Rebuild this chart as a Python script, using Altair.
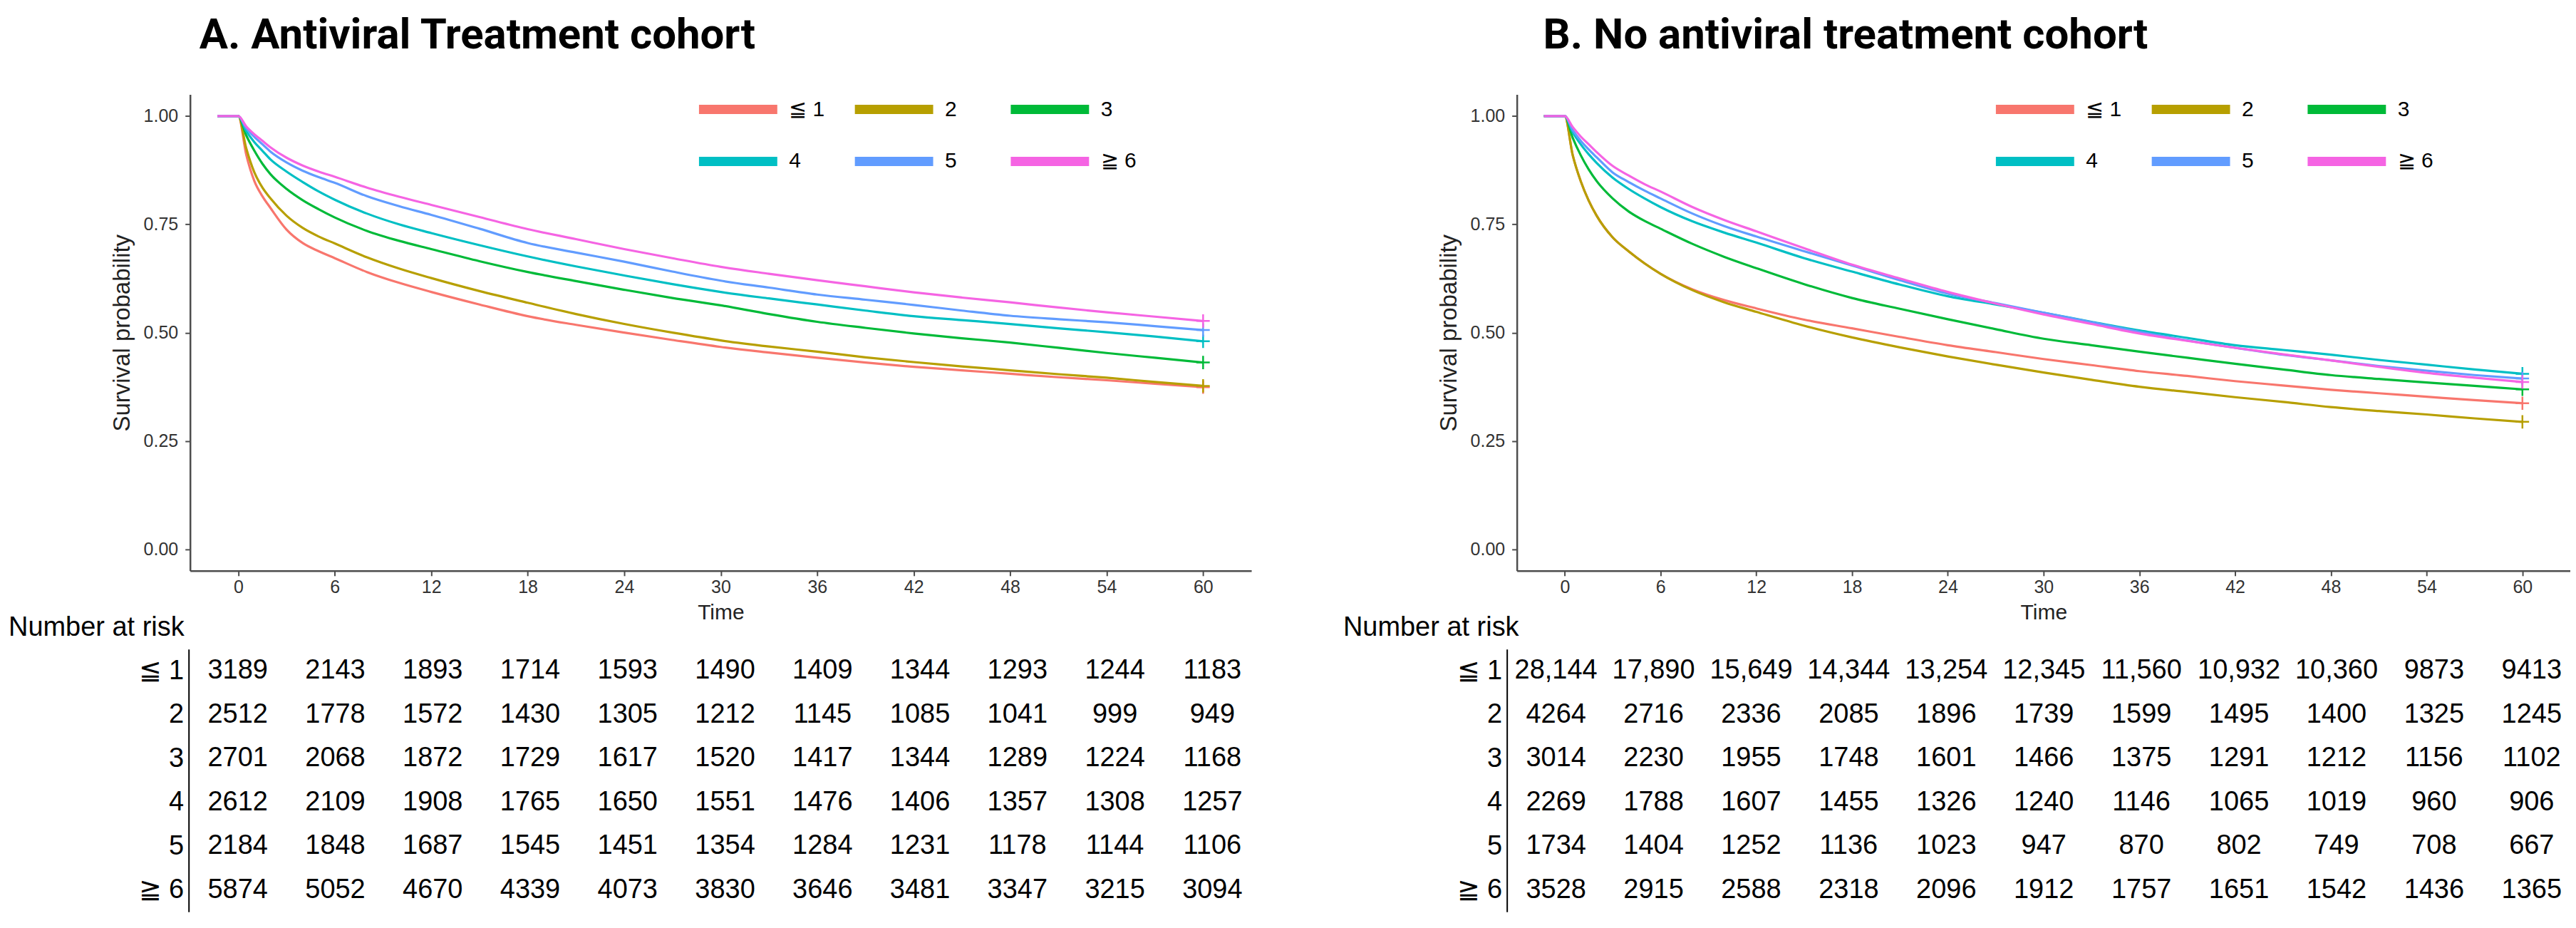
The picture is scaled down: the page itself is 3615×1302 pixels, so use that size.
import altair as alt
import pandas as pd

groups = ["≦ 1", "2", "3", "4", "5", "≧ 6"]
colors = ["#F8766D", "#B79F00", "#00BA38", "#00BFC4", "#619CFF", "#F564E3"]

times = [-1.3, 0, 0.5, 1, 1.5, 2, 3, 4, 5, 6, 8, 10, 12, 15, 18, 21, 24, 27, 30,
         33, 36, 39, 42, 45, 48, 51, 54, 57, 60]

# Panel A: antiviral treatment cohort (survival)
a_g1 = [1, 1, 0.91, 0.85, 0.815, 0.788, 0.738, 0.707, 0.688, 0.672, 0.64, 0.615, 0.594,
        0.565, 0.538, 0.518, 0.50, 0.483, 0.467, 0.454, 0.442, 0.431, 0.421, 0.413, 0.405,
        0.397, 0.39, 0.382, 0.374]
a_g2 = [1, 1, 0.925, 0.87, 0.835, 0.81, 0.77, 0.742, 0.722, 0.706, 0.674, 0.648, 0.626,
        0.596, 0.569, 0.543, 0.520, 0.50, 0.482, 0.468, 0.456, 0.443, 0.432, 0.422, 0.413,
        0.404, 0.396, 0.386, 0.377]
a_g3 = [1, 1, 0.955, 0.92, 0.89, 0.866, 0.832, 0.806, 0.785, 0.766, 0.735, 0.712, 0.693,
        0.665, 0.640, 0.619, 0.599, 0.580, 0.563, 0.543, 0.525, 0.511, 0.498, 0.487, 0.477,
        0.465, 0.453, 0.442, 0.431]
a_g4 = [1, 1, 0.965, 0.94, 0.92, 0.90, 0.872, 0.848, 0.826, 0.807, 0.775, 0.75, 0.730,
        0.702, 0.676, 0.653, 0.632, 0.612, 0.594, 0.579, 0.565, 0.551, 0.538, 0.529, 0.520,
        0.510, 0.501, 0.491, 0.480]
a_g5 = [1, 1, 0.972, 0.952, 0.935, 0.918, 0.893, 0.874, 0.859, 0.846, 0.815, 0.792, 0.772,
        0.740, 0.707, 0.685, 0.664, 0.641, 0.620, 0.604, 0.588, 0.576, 0.564, 0.551, 0.539,
        0.531, 0.524, 0.515, 0.506]
a_g6 = [1, 1, 0.976, 0.958, 0.943, 0.928, 0.904, 0.886, 0.872, 0.860, 0.835, 0.814, 0.795,
        0.767, 0.739, 0.716, 0.693, 0.672, 0.652, 0.636, 0.621, 0.607, 0.593, 0.581, 0.570,
        0.558, 0.547, 0.537, 0.527]

# Panel B: no antiviral treatment cohort
b_g1 = [1, 1, 0.91, 0.85, 0.805, 0.77, 0.72, 0.688, 0.66, 0.636, 0.60, 0.575, 0.556,
        0.53, 0.510, 0.49, 0.471, 0.455, 0.439, 0.425, 0.411, 0.40, 0.388, 0.378, 0.368,
        0.36, 0.352, 0.344, 0.337]
b_g2 = [1, 1, 0.91, 0.85, 0.805, 0.77, 0.72, 0.688, 0.66, 0.636, 0.598, 0.57, 0.548,
        0.516, 0.489, 0.466, 0.445, 0.426, 0.408, 0.391, 0.375, 0.363, 0.351, 0.34, 0.328,
        0.319, 0.311, 0.302, 0.294]
b_g3 = [1, 1, 0.95, 0.91, 0.877, 0.85, 0.81, 0.78, 0.758, 0.740, 0.705, 0.675, 0.649,
        0.612, 0.580, 0.555, 0.531, 0.508, 0.486, 0.471, 0.456, 0.442, 0.428, 0.415, 0.402,
        0.393, 0.385, 0.377, 0.369]
b_g4 = [1, 1, 0.963, 0.935, 0.912, 0.892, 0.858, 0.832, 0.81, 0.79, 0.757, 0.731, 0.708,
        0.672, 0.641, 0.611, 0.584, 0.565, 0.546, 0.525, 0.505, 0.488, 0.471, 0.46, 0.449,
        0.437, 0.426, 0.415, 0.405]
b_g5 = [1, 1, 0.968, 0.943, 0.923, 0.905, 0.87, 0.848, 0.828, 0.810, 0.775, 0.746, 0.722,
        0.688, 0.655, 0.621, 0.590, 0.568, 0.546, 0.524, 0.502, 0.482, 0.465, 0.449, 0.436,
        0.423, 0.412, 0.402, 0.394]
b_g6 = [1, 1, 0.975, 0.953, 0.935, 0.917, 0.885, 0.863, 0.843, 0.826, 0.79, 0.76, 0.734,
        0.695, 0.657, 0.625, 0.594, 0.567, 0.542, 0.52, 0.498, 0.481, 0.465, 0.45, 0.436,
        0.421, 0.407, 0.396, 0.386]

risk_times = [0, 6, 12, 18, 24, 30, 36, 42, 48, 54, 60]

a_risk = [
    [3189, 2143, 1893, 1714, 1593, 1490, 1409, 1344, 1293, 1244, 1183],
    [2512, 1778, 1572, 1430, 1305, 1212, 1145, 1085, 1041, 999, 949],
    [2701, 2068, 1872, 1729, 1617, 1520, 1417, 1344, 1289, 1224, 1168],
    [2612, 2109, 1908, 1765, 1650, 1551, 1476, 1406, 1357, 1308, 1257],
    [2184, 1848, 1687, 1545, 1451, 1354, 1284, 1231, 1178, 1144, 1106],
    [5874, 5052, 4670, 4339, 4073, 3830, 3646, 3481, 3347, 3215, 3094],
]
b_risk = [
    [28144, 17890, 15649, 14344, 13254, 12345, 11560, 10932, 10360, 9873, 9413],
    [4264, 2716, 2336, 2085, 1896, 1739, 1599, 1495, 1400, 1325, 1245],
    [3014, 2230, 1955, 1748, 1601, 1466, 1375, 1291, 1212, 1156, 1102],
    [2269, 1788, 1607, 1455, 1326, 1240, 1146, 1065, 1019, 960, 906],
    [1734, 1404, 1252, 1136, 1023, 947, 870, 802, 749, 708, 667],
    [3528, 2915, 2588, 2318, 2096, 1912, 1757, 1651, 1542, 1436, 1365],
]

FONT = "Liberation Sans, Arial, sans-serif"
AXIS_GREY = "#4d4d4d"


def km_chart(curves, title, title_dx, width, legend_x):
    rows = []
    for g, vals in zip(groups, curves):
        for t, v in zip(times, vals):
            rows.append({"time": t, "surv": v, "group": g})
    df = pd.DataFrame(rows)
    end = df[df["time"] == times[-1]]

    x = alt.X("time:Q",
              scale=alt.Scale(domain=[-3, 63], nice=False, zero=False),
              axis=alt.Axis(values=risk_times, title="Time", labelFontSize=25,
                            titleFontSize=30, titleFontWeight="normal",
                            labelFont=FONT, titleFont=FONT, labelColor="#333",
                            titleColor="#222", domainColor=AXIS_GREY, domainWidth=2.5,
                            tickColor=AXIS_GREY, tickWidth=2, tickSize=7,
                            labelPadding=4, titlePadding=8, grid=False))
    y = alt.Y("surv:Q",
              scale=alt.Scale(domain=[-0.05, 1.05], nice=False, zero=False),
              axis=alt.Axis(values=[0, 0.25, 0.5, 0.75, 1], format=".2f",
                            title="Survival probability", labelFontSize=25,
                            titleFontSize=33, titleFontWeight="normal",
                            labelFont=FONT, titleFont=FONT, labelColor="#333",
                            titleColor="#222", domainColor=AXIS_GREY, domainWidth=2.5,
                            tickColor=AXIS_GREY, tickWidth=2, tickSize=7,
                            labelPadding=10, titlePadding=13, grid=False))
    color_scale = alt.Scale(domain=groups, range=colors)
    legend = alt.Legend(title=None, orient="none", legendX=legend_x, legendY=-13,
                        direction="horizontal", columns=3, gridAlign="all",
                        symbolType="M-2,0L2,0", symbolStrokeWidth=13, symbolSize=3025,
                        labelFontSize=30, labelFont=FONT, labelColor="black",
                        labelOffset=37.5, columnPadding=16, rowPadding=13,
                        labelLimit=200, padding=0)
    lines = alt.Chart(df).mark_line(strokeWidth=3.2, interpolate="monotone").encode(
        x=x, y=y,
        color=alt.Color("group:N", scale=color_scale, sort=groups, legend=legend))
    marks = alt.Chart(end).mark_point(shape="M-1,0L1,0M0,-1L0,1", size=350,
                                      strokeWidth=2.5, filled=False, opacity=1).encode(
        x=x, y=y,
        color=alt.Color("group:N", scale=color_scale, sort=groups, legend=None))
    return alt.layer(lines, marks).properties(
        width=width, height=669,
        title=alt.TitleParams(title, anchor="start", frame="group", dx=title_dx,
                              fontSize=60, font="Roboto", fontWeight="bold",
                              color="black", offset=52))


def fmt(n):
    return f"{n:,}" if n >= 10000 else str(n)


def risk_chart(risk, dom, width, axis_offset, title_dx):
    rows = []
    for g, counts in zip(groups, risk):
        for t, n in zip(risk_times, counts):
            rows.append({"time": t, "group": g, "label": fmt(n)})
    df = pd.DataFrame(rows)
    return alt.Chart(df).mark_text(fontSize=38, font=FONT, color="black").encode(
        x=alt.X("time:Q", scale=alt.Scale(domain=dom, nice=False, zero=False), axis=None),
        y=alt.Y("group:N", sort=groups,
                axis=alt.Axis(title=None, ticks=False, domainColor="black",
                              domainWidth=2, labelFontSize=38, labelFont=FONT,
                              labelColor="black", labelPadding=7, offset=axis_offset)),
        text="label:N",
    ).properties(width=width, height=369,
                 title=alt.TitleParams("Number at risk", anchor="start", frame="group",
                                       dx=title_dx, fontSize=38, font=FONT,
                                       fontWeight="normal", color="black", offset=11))


left = alt.VConcatChart(
    vconcat=[km_chart([a_g1, a_g2, a_g3, a_g4, a_g5, a_g6],
                      "A. Antiviral Treatment cohort", 13, 1491, 736),
             risk_chart(a_risk, [-2.94, 62.4], 1491, 2, -255)],
    spacing=110, bounds="flush")
right = alt.VConcatChart(
    vconcat=[km_chart([b_g1, b_g2, b_g3, b_g4, b_g5, b_g6],
                      "B. No antiviral treatment cohort", 37, 1480, 694),
             risk_chart(b_risk, [-2.41, 61.5], 1460, 14, -244)],
    spacing=110, bounds="flush")

chart = alt.HConcatChart(hconcat=[left, right], spacing=129, bounds="full").properties(
    padding={"left": 4, "top": 11, "right": 0, "bottom": 0},
    background="white",
).resolve_legend(color="independent").configure_view(stroke=None)

chart.save("out.html", embed_options={"renderer": "svg", "actions": False})
